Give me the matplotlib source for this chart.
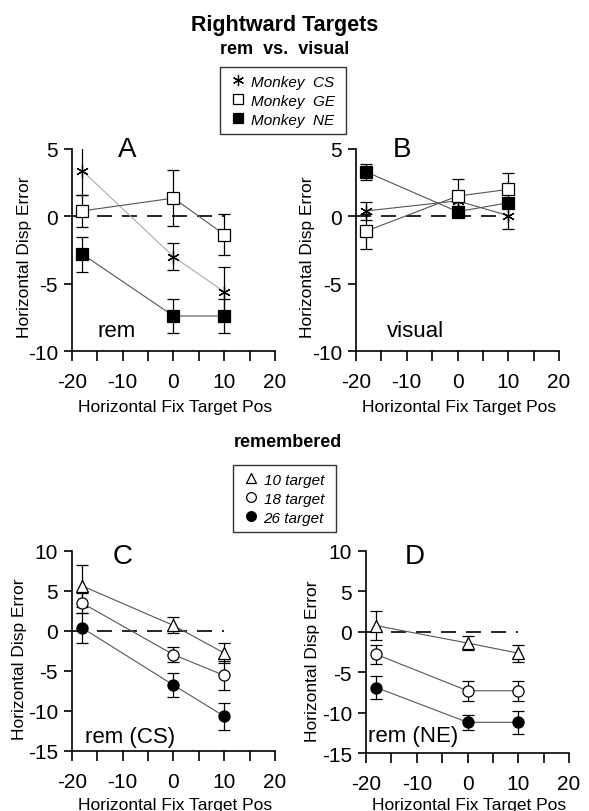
import numpy as np
import matplotlib
matplotlib.use('Agg')
import matplotlib.pyplot as plt
from matplotlib.lines import Line2D

plt.rcParams['font.family'] = ['Liberation Sans', 'DejaVu Sans']
plt.rcParams['axes.unicode_minus'] = False

# fixation target positions
fix_pos = [-18, 0, 10]

# panel A: remembered targets
cs_rem = [3.4, -3.0, -5.6]
cs_rem_err = [1.8, 1.0, 1.85]
ge_rem = [0.4, 1.35, -1.35]
ge_rem_err = [1.2, 2.1, 1.55]
ne_rem = [-2.8, -7.4, -7.4]
ne_rem_err = [1.3, 1.25, 1.25]

# panel B: visual targets
cs_vis = [0.4, 1.15, 0.05]
cs_vis_err = [0.7, 0.5, 1.0]
ge_vis = [-1.1, 1.5, 2.0]
ge_vis_err = [1.3, 1.3, 1.25]
ne_vis = [3.3, 0.35, 1.0]
ne_vis_err = [0.6, 0.4, 0.3]

# panel C: monkey CS, by target eccentricity
t10_cs = [5.6, 0.65, -2.8]
t10_cs_err = [2.65, 1.0, 1.3]
t18_cs = [3.45, -3.0, -5.6]
t18_cs_err = [1.2, 0.95, 1.8]
t26_cs = [0.35, -6.8, -10.7]
t26_cs_err = [1.9, 1.45, 1.7]

# panel D: monkey NE
t10_ne = [0.75, -1.4, -2.65]
t10_ne_err = [1.8, 0.9, 1.05]
t18_ne = [-2.8, -7.3, -7.3]
t18_ne_err = [1.2, 1.25, 1.25]
t26_ne = [-6.9, -11.2, -11.2]
t26_ne_err = [1.45, 0.95, 1.45]

monkey_labels = ['Monkey  CS ', 'Monkey  GE ', 'Monkey  NE ']
target_labels = ['10 target ', '18 target ', '26 target ']

STAR = (6, 2, 0)  # asterisk marker


def setup_axes(ax, ylim, yticks, letter, letter_xy, tag, tag_xy, ylab_x, ylab_y, xlab_y):
    ax.set_xlim(-20, 20)
    ax.set_ylim(*ylim)
    ax.spines['top'].set_visible(False)
    ax.spines['right'].set_visible(False)
    ax.set_xticks([-20, -10, 0, 10, 20])
    ax.set_xticks([-15, -5, 5, 15], minor=True)
    ax.set_yticks(yticks)
    ax.tick_params(which='both', direction='out', length=6, width=1.2, labelsize=15)
    ax.tick_params(axis='x', which='both', length=7, pad=8)
    ax.tick_params(axis='y', pad=4)
    ax.set_xlabel('Horizontal Fix Target Pos', fontsize=12.5)
    ax.set_ylabel('Horizontal Disp Error', fontsize=12.5)
    ax.yaxis.set_label_coords(ylab_x, ylab_y)
    ax.xaxis.set_label_coords(0.51, xlab_y)
    for s in ['left', 'bottom']:
        ax.spines[s].set_linewidth(1.2)
    # zero reference line
    ax.plot([-20, 10], [0, 0], color='black', lw=1.2, dashes=(9, 6), zorder=1)
    ax.text(letter_xy[0], letter_xy[1], letter, fontsize=20, ha='center', va='center')
    ax.text(tag_xy[0], tag_xy[1], tag, fontsize=16, ha='left', va='baseline')


def series(ax, y, err, marker, face, line_color='#555555', ms=8):
    ax.errorbar(fix_pos, y, yerr=err, fmt='none', ecolor='black', elinewidth=0.9,
                capsize=4, capthick=0.9, zorder=2)
    ax.plot(fix_pos, y, color=line_color, lw=0.8, zorder=3)
    ax.plot(fix_pos, y, linestyle='none', marker=marker, ms=ms, mfc=face,
            mec='black', mew=0.9, zorder=4)


fig = plt.figure(figsize=(5.89, 8.12), dpi=100)
axA = fig.add_axes([0.1222, 0.5665, 0.3447, 0.2488])
axB = fig.add_axes([0.6044, 0.5665, 0.3447, 0.2488])
axC = fig.add_axes([0.1222, 0.0743, 0.3447, 0.2463])
axD = fig.add_axes([0.6214, 0.0714, 0.3447, 0.2490])

setup_axes(axA, (-10, 5), [-10, -5, 0, 5], 'A', (-9.2, 5.0), 'rem', (-15.0, -8.9),
           -0.197, 0.47, -0.24)
setup_axes(axB, (-10, 5), [-10, -5, 0, 5], 'B', (-10.9, 5.0), 'visual', (-13.9, -8.9),
           -0.202, 0.47, -0.24)
setup_axes(axC, (-15, 10), [-15, -10, -5, 0, 5, 10], 'C', (-10.1, 9.3), 'rem (CS)', (-17.4, -13.9),
           -0.22, 0.46, -0.232)
setup_axes(axD, (-15, 10), [-15, -10, -5, 0, 5, 10], 'D', (-10.3, 9.3), 'rem (NE)', (-19.6, -13.5),
           -0.227, 0.46, -0.218)

series(axA, cs_rem, cs_rem_err, STAR, 'none', line_color='#aaaaaa', ms=9)
series(axA, ge_rem, ge_rem_err, 's', 'white')
series(axA, ne_rem, ne_rem_err, 's', 'black')

series(axB, cs_vis, cs_vis_err, STAR, 'none', ms=9)
series(axB, ge_vis, ge_vis_err, 's', 'white')
series(axB, ne_vis, ne_vis_err, 's', 'black')

series(axC, t10_cs, t10_cs_err, '^', 'white')
series(axC, t18_cs, t18_cs_err, 'o', 'white')
series(axC, t26_cs, t26_cs_err, 'o', 'black')

series(axD, t10_ne, t10_ne_err, '^', 'white')
series(axD, t18_ne, t18_ne_err, 'o', 'white')
series(axD, t26_ne, t26_ne_err, 'o', 'black')

# titles
fig.text(0.484, 1 - 25 / 812, 'Rightward Targets', fontsize=15.5, fontweight='bold',
         ha='center', va='center')
fig.text(0.484, 1 - 50 / 812, 'rem  vs.  visual', fontsize=13, fontweight='bold',
         ha='center', va='center')
fig.text(0.489, 1 - 443 / 812, 'remembered', fontsize=13, fontweight='bold',
         ha='center', va='center')

# legends
leg_kw = dict(loc='upper left', prop={'style': 'italic', 'size': 11}, frameon=True,
              fancybox=False, edgecolor='black', handlelength=1.4, handletextpad=0.1,
              labelspacing=0.33, borderpad=0.5, borderaxespad=0)

mh = [Line2D([], [], linestyle='none', marker=STAR, ms=8, mfc='none', mec='black', mew=0.9),
      Line2D([], [], linestyle='none', marker='s', ms=7, mfc='white', mec='black', mew=0.9),
      Line2D([], [], linestyle='none', marker='s', ms=7, mfc='black', mec='black', mew=0.9)]
leg1 = fig.legend(mh, monkey_labels, bbox_to_anchor=(220 / 589, 1 - 68 / 812), **leg_kw)
leg1.get_frame().set_linewidth(1.0)

th = [Line2D([], [], linestyle='none', marker='^', ms=7, mfc='white', mec='black', mew=0.9),
      Line2D([], [], linestyle='none', marker='o', ms=7, mfc='white', mec='black', mew=0.9),
      Line2D([], [], linestyle='none', marker='o', ms=7, mfc='black', mec='black', mew=0.9)]
leg2 = fig.legend(th, target_labels, bbox_to_anchor=(233 / 589, 1 - 466 / 812), **leg_kw)
leg2.get_frame().set_linewidth(1.0)

plt.savefig('out.png', dpi=100)
